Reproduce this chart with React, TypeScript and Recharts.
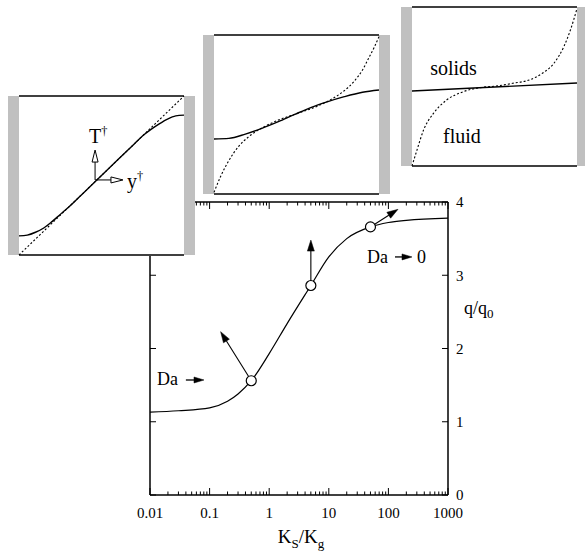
import React from 'react';
import {
  LineChart,
  Line,
  XAxis,
  YAxis,
  ReferenceLine,
  ReferenceDot,
  ReferenceArea,
  Label,
} from 'recharts';

const FONT = "'Liberation Serif', 'Times New Roman', serif";

// ---------- main chart data ----------
const ratioKsKg = [0.01, 0.03, 0.1, 0.2, 0.3, 0.5, 1, 2, 5, 10, 20, 50, 100, 200, 1000];
const heatRatio = [1.13, 1.15, 1.19, 1.28, 1.38, 1.56, 1.93, 2.34, 2.86, 3.25, 3.5, 3.66, 3.72, 3.75, 3.78];
const markedK = [0.5, 5, 50];
const markedQ = [1.56, 2.86, 3.66];
const arrowTipK = [0.153, 5, 145];
const arrowTipQ = [2.23, 3.48, 3.9];
const majorTicks = [0.01, 0.1, 1, 10, 100, 1000];
const minorTicks = [
  0.02, 0.03, 0.04, 0.05, 0.06, 0.07, 0.08, 0.09,
  0.2, 0.3, 0.4, 0.5, 0.6, 0.7, 0.8, 0.9,
  2, 3, 4, 5, 6, 7, 8, 9,
  20, 30, 40, 50, 60, 70, 80, 90,
  200, 300, 400, 500, 600, 700, 800, 900,
];
const qTicks = [0, 1, 2, 3, 4];
const mainLabels = [
  { x: 0.0131, y: 1.5, text: 'Da' },
  { x: 43.7, y: 3.17, text: 'Da' },
  { x: 302, y: 3.17, text: '0' },
];
const mainSmallArrows = [
  { x1: 0.04, y1: 1.57, x2: 0.0805, y2: 1.57 },
  { x1: 129, y1: 3.25, x2: 249, y2: 3.25 },
];

const mainData = ratioKsKg.map((k, i) => ({ k, q: heatRatio[i] }));
const circleData = markedK.map((k, i) => ({ k, q: markedQ[i] }));
const mainArrows = markedK.map((k, i) => ({ x1: k, y1: markedQ[i], x2: arrowTipK[i], y2: arrowTipQ[i] }));

// ---------- inset data (normalised wall-to-wall coordinates) ----------
const inset1X = [0, 0.05, 0.1, 0.15, 0.2, 0.25, 0.3, 0.4, 0.5, 0.6, 0.7, 0.75, 0.8, 0.85, 0.9, 0.95, 1];
const inset1Solid = [0.12, 0.125, 0.143, 0.17, 0.21, 0.255, 0.3, 0.4, 0.5, 0.6, 0.7, 0.75, 0.79, 0.825, 0.855, 0.875, 0.88];
const inset1DashX = [0, 1];
const inset1Dash = [0, 1];

const inset2X = [0, 0.09, 0.19, 0.29, 0.39, 0.49, 0.59, 0.69, 0.79, 0.9, 1];
const inset2Solid = [0.346, 0.35, 0.377, 0.413, 0.455, 0.501, 0.545, 0.581, 0.612, 0.64, 0.654];
const inset2DashX = [0, 0.04, 0.09, 0.15, 0.21, 0.29, 0.39, 0.5, 0.61, 0.71, 0.79, 0.85, 0.9, 0.94, 0.97, 1];
const inset2Dash = [0.01, 0.11, 0.21, 0.3, 0.36, 0.415, 0.465, 0.505, 0.545, 0.595, 0.65, 0.71, 0.78, 0.86, 0.92, 0.99];

const inset3X = [0, 1];
const inset3Solid = [0.472, 0.522];
const inset3DashX = [0, 0.03, 0.07, 0.13, 0.21, 0.31, 0.43, 0.51, 0.61, 0.71, 0.79, 0.86, 0.92, 0.96, 1];
const inset3Dash = [0.0, 0.1, 0.226, 0.331, 0.415, 0.467, 0.495, 0.503, 0.52, 0.541, 0.583, 0.646, 0.75, 0.855, 0.99];

const inset1Arrows = [
  { x1: 0.461, y1: 0.472, x2: 0.461, y2: 0.66 },
  { x1: 0.461, y1: 0.472, x2: 0.63, y2: 0.472 },
];
const inset1Labels = [
  { x: 0.424, y: 0.704, text: 'T', sup: '\u2020' },
  { x: 0.655, y: 0.421, text: 'y', sup: '\u2020' },
];
const inset3Labels = [
  { x: 0.11, y: 0.572, text: 'solids' },
  { x: 0.188, y: 0.145, text: 'fluid' },
];

const zip = (xs: number[], ys: number[]) => xs.map((x, i) => ({ x, y: ys[i] }));

// ---------- helpers ----------
const noTick = () => null;
const THIN = 0.01;

const arrowShape =
  (opts: { gap: number; len: number; half: number; open: boolean; width: number }) =>
  (p: any) => {
    const { x1, y1, x2, y2 } = p;
    const dx = x2 - x1;
    const dy = y2 - y1;
    const L = Math.hypot(dx, dy) || 1;
    const ux = dx / L;
    const uy = dy / L;
    const sx = x1 + ux * opts.gap;
    const sy = y1 + uy * opts.gap;
    const bx = x2 - ux * opts.len;
    const by = y2 - uy * opts.len;
    const px = -uy;
    const py = ux;
    const pts = `${x2},${y2} ${bx + px * opts.half},${by + py * opts.half} ${bx - px * opts.half},${by - py * opts.half}`;
    return (
      <g>
        <line x1={sx} y1={sy} x2={bx} y2={by} stroke="#000" strokeWidth={opts.width} />
        <polygon
          points={pts}
          fill={opts.open ? '#fff' : '#000'}
          stroke="#000"
          strokeWidth={opts.open ? 1 : 0.5}
          strokeLinejoin="miter"
        />
      </g>
    );
  };

const textShape = (t: { text: string; sup?: string }, size: number) => (p: any) => (
  <text x={p.cx} y={p.cy} style={{ fontFamily: FONT }} fontSize={size} fill="#000">
    {t.text}
    {t.sup ? (
      <tspan fontSize={size * 0.62} dy={-size * 0.42}>
        {t.sup}
      </tspan>
    ) : null}
  </text>
);

const xLabel = (props: any) => {
  const vb = props.viewBox;
  const cx = vb.x + vb.width / 2 + 2;
  const y = vb.y + 48;
  return (
    <text x={cx} y={y} textAnchor="middle" style={{ fontFamily: FONT }} fontSize={19} fill="#000">
      <tspan>K</tspan>
      <tspan fontSize={13} dy={5}>S</tspan>
      <tspan dy={-5}>/K</tspan>
      <tspan fontSize={13} dy={5}>g</tspan>
    </text>
  );
};

const yLabel = (props: any) => {
  const vb = props.viewBox;
  const x = vb.x + 16;
  const y = 314;
  return (
    <text x={x} y={y} style={{ fontFamily: FONT }} fontSize={18} fill="#000">
      <tspan>q/q</tspan>
      <tspan fontSize={13} dy={4}>0</tspan>
    </text>
  );
};

const logAxisCommon = {
  type: 'number' as const,
  scale: 'log' as const,
  domain: [0.01, 1000],
  allowDataOverflow: true,
  dataKey: 'k',
  interval: 0 as const,
};

const tickLineStyle = { stroke: '#000', strokeWidth: 1 };
const axisLineStyle = { stroke: '#000', strokeWidth: 1.5 };

function MainChart() {
  return (
    <div style={{ position: 'absolute', left: 0, top: 0 }}>
      <LineChart width={585} height={557} data={mainData} margin={{ top: 202, right: 97, bottom: 12, left: 150 }}>
        <XAxis
          xAxisId="b"
          {...logAxisCommon}
          ticks={majorTicks}
          tickFormatter={(v: number) => String(v)}
          tickLine={false}
          axisLine={axisLineStyle}
          height={50}
          tickSize={6}
          tickMargin={6}
          tick={{ fill: '#000', fontSize: 15, fontFamily: FONT }}
        >
          <Label content={xLabel} />
        </XAxis>
        <XAxis xAxisId="bmaj" {...logAxisCommon} mirror height={THIN} ticks={majorTicks} tick={noTick} tickSize={7} tickLine={tickLineStyle} axisLine={false} />
        <XAxis xAxisId="bmin" {...logAxisCommon} mirror height={THIN} ticks={minorTicks} tick={noTick} tickSize={3.5} tickLine={tickLineStyle} axisLine={false} />
        <XAxis xAxisId="t" orientation="top" {...logAxisCommon} mirror height={THIN} ticks={majorTicks} tick={noTick} tickSize={7} tickLine={tickLineStyle} axisLine={axisLineStyle} />
        <XAxis xAxisId="tmin" orientation="top" {...logAxisCommon} mirror height={THIN} ticks={minorTicks} tick={noTick} tickSize={3.5} tickLine={tickLineStyle} axisLine={false} />
        <YAxis yAxisId="l" type="number" domain={[0, 4]} allowDataOverflow mirror width={THIN} ticks={qTicks} interval={0} tick={noTick} tickSize={6} tickLine={tickLineStyle} axisLine={axisLineStyle} />
        <YAxis yAxisId="r" orientation="right" type="number" domain={[0, 4]} allowDataOverflow mirror width={THIN} ticks={qTicks} interval={0} tick={noTick} tickSize={6} tickLine={tickLineStyle} axisLine={axisLineStyle} />
        <YAxis
          yAxisId="rl"
          orientation="right"
          type="number"
          domain={[0, 4]}
          allowDataOverflow
          width={40}
          ticks={qTicks}
          interval={0}
          tickLine={false}
          axisLine={false}
          tickSize={6}
          tickMargin={2}
          tick={{ fill: '#000', fontSize: 15, fontFamily: FONT }}
        >
          <Label content={yLabel} />
        </YAxis>
        <Line xAxisId="b" yAxisId="l" dataKey="q" type="monotone" stroke="#000" strokeWidth={1.2} dot={false} isAnimationActive={false} />
        {mainArrows.map((a, i) => (
          <ReferenceLine
            key={`ma${i}`}
            xAxisId="b"
            yAxisId="l"
            ifOverflow="visible"
            segment={[{ x: a.x1, y: a.y1 }, { x: a.x2, y: a.y2 }]}
            shape={arrowShape({ gap: 5, len: 11, half: 3.5, open: false, width: 1.1 })}
          />
        ))}
        {mainSmallArrows.map((a, i) => (
          <ReferenceLine
            key={`sa${i}`}
            xAxisId="b"
            yAxisId="l"
            ifOverflow="visible"
            segment={[{ x: a.x1, y: a.y1 }, { x: a.x2, y: a.y2 }]}
            shape={arrowShape({ gap: 0, len: 10, half: 3, open: false, width: 1.3 })}
          />
        ))}
        {mainLabels.map((t, i) => (
          <ReferenceDot key={`ml${i}`} xAxisId="b" yAxisId="l" x={t.x} y={t.y} ifOverflow="visible" shape={textShape(t, 18)} />
        ))}
        <Line
          xAxisId="b"
          yAxisId="l"
          data={circleData}
          dataKey="q"
          stroke="none"
          dot={{ r: 5, fill: '#fff', stroke: '#000', strokeWidth: 1.2 }}
          isAnimationActive={false}
        />
      </LineChart>
    </div>
  );
}

const WALL = 11 / 165;

function Inset(props: {
  left: number;
  top: number;
  solid: { x: number; y: number }[];
  dashed: { x: number; y: number }[];
  arrows?: { x1: number; y1: number; x2: number; y2: number }[];
  labels?: { x: number; y: number; text: string; sup?: string }[];
}) {
  const { left, top, solid, dashed, arrows = [], labels = [] } = props;
  return (
    <div style={{ position: 'absolute', left, top, width: 187, height: 161, background: '#fff' }}>
      <LineChart width={187} height={161} margin={{ top: 1, right: 0, bottom: 1, left: 0 }}>
        <XAxis xAxisId="x" dataKey="x" type="number" domain={[-WALL, 1 + WALL]} allowDataOverflow hide />
        <YAxis yAxisId="y" type="number" domain={[0, 1]} allowDataOverflow hide />
        <ReferenceArea xAxisId="x" yAxisId="y" x1={-WALL} x2={0} y1={0} y2={1} fill="#c0c0c0" fillOpacity={1} stroke="none" ifOverflow="visible" />
        <ReferenceArea xAxisId="x" yAxisId="y" x1={1} x2={1 + WALL} y1={0} y2={1} fill="#c0c0c0" fillOpacity={1} stroke="none" ifOverflow="visible" />
        <ReferenceLine xAxisId="x" yAxisId="y" ifOverflow="visible" segment={[{ x: 0, y: 1 }, { x: 1, y: 1 }]} stroke="#000" strokeWidth={1.3} />
        <ReferenceLine xAxisId="x" yAxisId="y" ifOverflow="visible" segment={[{ x: 0, y: 0 }, { x: 1, y: 0 }]} stroke="#000" strokeWidth={1.3} />
        <Line xAxisId="x" yAxisId="y" data={dashed} dataKey="y" type="monotone" stroke="#000" strokeWidth={1.1} strokeDasharray="2 2" dot={false} isAnimationActive={false} />
        <Line xAxisId="x" yAxisId="y" data={solid} dataKey="y" type="monotone" stroke="#000" strokeWidth={1.4} dot={false} isAnimationActive={false} />
        {arrows.map((a, i) => (
          <ReferenceLine
            key={`ia${i}`}
            xAxisId="x"
            yAxisId="y"
            ifOverflow="visible"
            segment={[{ x: a.x1, y: a.y1 }, { x: a.x2, y: a.y2 }]}
            shape={arrowShape({ gap: 0, len: 12, half: 3, open: true, width: 1 })}
          />
        ))}
        {labels.map((t, i) => (
          <ReferenceDot key={`il${i}`} xAxisId="x" yAxisId="y" x={t.x} y={t.y} ifOverflow="visible" shape={textShape(t, 20)} />
        ))}
      </LineChart>
    </div>
  );
}

export default function App() {
  return (
    <div style={{ position: 'absolute', left: 0, top: 0, width: 585, height: 557, overflow: 'hidden', background: '#fff' }}>
      <MainChart />
      <Inset left={8} top={95} solid={zip(inset1X, inset1Solid)} dashed={zip(inset1DashX, inset1Dash)} arrows={inset1Arrows} labels={inset1Labels} />
      <Inset left={203} top={34} solid={zip(inset2X, inset2Solid)} dashed={zip(inset2DashX, inset2Dash)} />
      <Inset left={401} top={6} solid={zip(inset3X, inset3Solid)} dashed={zip(inset3DashX, inset3Dash)} labels={inset3Labels} />
    </div>
  );
}
